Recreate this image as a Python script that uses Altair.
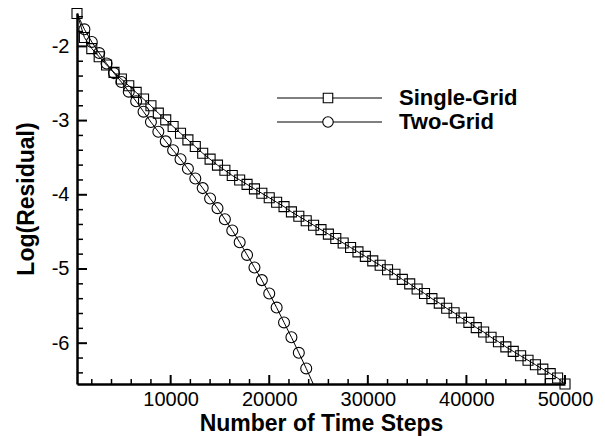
import altair as alt
import pandas as pd

# Residual history recorded every 750 time steps
steps = list(range(500, 50001, 750))

single_grid = [
    -1.556, -1.88, -2.03, -2.14, -2.25, -2.35, -2.44, -2.53, -2.62, -2.71,
    -2.80, -2.90, -2.99, -3.08, -3.17, -3.26, -3.35, -3.44, -3.52, -3.60,
    -3.67, -3.74, -3.80, -3.86, -3.92, -3.98, -4.04, -4.10, -4.16, -4.23,
    -4.29, -4.35, -4.41, -4.47, -4.53, -4.59, -4.65, -4.71, -4.77, -4.83,
    -4.89, -4.95, -5.01, -5.07, -5.14, -5.20, -5.27, -5.33, -5.40, -5.46,
    -5.53, -5.59, -5.66, -5.72, -5.79, -5.85, -5.92, -5.98, -6.05, -6.11,
    -6.17, -6.23, -6.29, -6.35, -6.41, -6.47, -6.55,
]

two_grid = [
    -1.556, -1.77, -1.94, -2.09, -2.23, -2.36, -2.48, -2.61, -2.74, -2.88,
    -3.02, -3.15, -3.28, -3.40, -3.52, -3.65, -3.78, -3.91, -4.05, -4.18,
    -4.33, -4.48, -4.64, -4.81, -4.98, -5.15, -5.33, -5.52, -5.72, -5.92,
    -6.13, -6.34, -6.56,
]

series_names = ["Single-Grid", "Two-Grid"]

x_major = [10000, 20000, 30000, 40000, 50000]
x_minor = [v for v in range(2000, 50000, 2000) if v % 10000 != 0]
y_major = [-2, -3, -4, -5, -6]
y_minor = [-1.6, -1.8, -2.2, -2.4, -2.6, -2.8, -3.2, -3.4, -3.6, -3.8,
           -4.2, -4.4, -4.6, -4.8, -5.2, -5.4, -5.6, -5.8, -6.2, -6.4]

X_DOMAIN = [500, 50000]
Y_DOMAIN = [-6.55, -1.55]
W, H = 488, 371
FONT = "Liberation Sans"

df = pd.concat([
    pd.DataFrame({"series": series_names[0], "step": steps, "value": single_grid}),
    pd.DataFrame({"series": series_names[1], "step": steps[:len(two_grid)], "value": two_grid}),
])

x_axis = alt.Axis(values=x_major, format="d", ticks=False, tickSize=0, grid=False,
                  labelFlush=False, labelOverlap=False,
                  domainColor="black", domainWidth=2.5, labelFont=FONT, labelFontSize=20,
                  labelColor="black", labelPadding=5, title="Number of Time Steps",
                  titleFont=FONT, titleFontSize=23, titleFontWeight="bold",
                  titleColor="black", titlePadding=3)
y_axis = alt.Axis(values=y_major, ticks=False, tickSize=0, grid=False,
                  labelFlush=False, labelOverlap=False,
                  labelExpr="datum.value < 0 ? '-' + abs(datum.value) : '' + datum.value",
                  domainColor="black", domainWidth=2.5, labelFont=FONT, labelFontSize=20,
                  labelColor="black", labelPadding=8, title="Log(Residual)",
                  titleFont=FONT, titleFontSize=23, titleFontWeight="bold",
                  titleColor="black", titlePadding=13)

X = alt.X("step:Q", scale=alt.Scale(domain=X_DOMAIN, nice=False, zero=False), axis=x_axis)
Y = alt.Y("value:Q", scale=alt.Scale(domain=Y_DOMAIN, nice=False, zero=False), axis=y_axis)

lines = alt.Chart(df).mark_line(color="black", strokeWidth=1, clip=True).encode(
    x=X, y=Y, detail="series:N")

squares = alt.Chart(df).transform_filter(
    alt.datum.series == series_names[0]
).mark_point(shape="square", size=100, filled=False, color="black", strokeWidth=1.1,
             opacity=1).encode(x=X, y=Y)

circles = alt.Chart(df).transform_filter(
    f"datum.series == '{series_names[1]}' && datum.step > {X_DOMAIN[0]} && datum.value >= {Y_DOMAIN[0]}"
).mark_point(shape="circle", size=120, filled=False, color="black", strokeWidth=1.1,
             opacity=1).encode(x=X, y=Y)

# inward tick marks on both axes
xt_major = alt.Chart(pd.DataFrame({"step": x_major})).mark_rule(color="black", strokeWidth=2).encode(
    x=X, y=alt.value(H), y2=alt.value(H - 9))
xt_minor = alt.Chart(pd.DataFrame({"step": x_minor})).mark_rule(color="black", strokeWidth=1.5).encode(
    x=X, y=alt.value(H), y2=alt.value(H - 5))
yt_major = alt.Chart(pd.DataFrame({"value": y_major})).mark_rule(color="black", strokeWidth=2).encode(
    y=Y, x=alt.value(0), x2=alt.value(10))
yt_minor = alt.Chart(pd.DataFrame({"value": y_minor})).mark_rule(color="black", strokeWidth=1.5).encode(
    y=Y, x=alt.value(0), x2=alt.value(6))

# legend, drawn inside the plot area
legend_layers = []
for name, shape, size, ypos in [(series_names[0], "square", 90, 85),
                                (series_names[1], "circle", 110, 109)]:
    ldf = pd.DataFrame({"label": [name]})
    legend_layers.append(alt.Chart(ldf).mark_rule(color="black", strokeWidth=1).encode(
        x=alt.value(200), x2=alt.value(305), y=alt.value(ypos)))
    legend_layers.append(alt.Chart(ldf).mark_point(
        shape=shape, size=size, filled=True, fill="white", stroke="black",
        strokeWidth=1.1, opacity=1).encode(x=alt.value(251), y=alt.value(ypos)))
    legend_layers.append(alt.Chart(ldf).mark_text(
        align="left", baseline="middle", font=FONT, fontSize=22, fontWeight="bold",
        color="black").encode(x=alt.value(322), y=alt.value(ypos), text="label:N"))

chart = alt.layer(
    lines, squares, circles, xt_major, xt_minor, yt_major, yt_minor, *legend_layers
).properties(
    width=W, height=H,
    padding={"left": 77, "top": 13, "right": 40, "bottom": 52},
    autosize=alt.AutoSizeParams(type="none"),
    background="white",
).configure_view(stroke=None)

chart.save("out.html", embed_options={"renderer": "svg", "actions": False})
